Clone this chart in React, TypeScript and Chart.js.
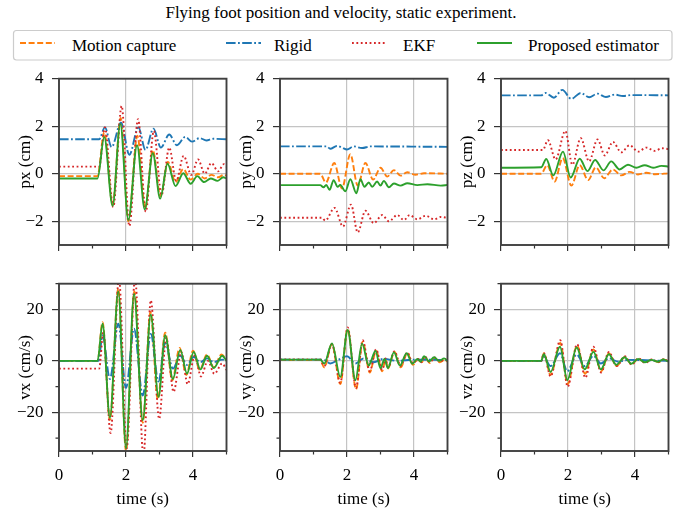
import React, { useEffect, useRef } from 'react';
import { Chart, registerables } from 'chart.js';

Chart.register(...registerables);

type Pt = [number, number];

// ---------- data (time in s, value) ----------
// px (cm)
const pxMocap: Pt[] = [[0,-0.1],[1.15,-0.1],[1.35,1.75],[1.6,-1.3],[1.84,2.35],[2.07,-2.0],[2.34,1.6],[2.57,-1.45],[2.8,1.0],[3.03,-0.95],[3.25,0.5],[3.48,-0.35],[3.71,0.2],[3.93,-0.25],[4.14,0.0],[4.35,-0.2],[4.55,-0.05],[4.75,-0.15],[4.92,-0.05],[5,-0.08]];
const pxRigid: Pt[] = [[0,1.45],[1.2,1.45],[1.37,1.95],[1.57,1.12],[1.85,2.15],[2.1,0.8],[2.37,1.95],[2.58,1.0],[2.82,1.9],[3.04,1.1],[3.29,1.65],[3.52,1.2],[3.77,1.55],[3.97,1.35],[4.2,1.5],[4.4,1.4],[4.6,1.47],[5,1.45]];
const pxEkf: Pt[] = [[0,0.3],[1.2,0.3],[1.37,1.95],[1.62,-1.4],[1.87,2.85],[2.1,-2.2],[2.36,2.3],[2.59,-1.6],[2.83,1.8],[3.06,-0.9],[3.29,1.1],[3.5,-0.3],[3.72,0.75],[3.95,-0.05],[4.15,0.6],[4.35,0.0],[4.55,0.45],[4.75,0.1],[4.92,0.4],[5,0.3]];
const pxProposed: Pt[] = [[0,-0.2],[1.15,-0.2],[1.35,1.55],[1.6,-1.35],[1.83,2.1],[2.07,-1.95],[2.33,1.2],[2.56,-1.5],[2.8,0.86],[3.02,-1.05],[3.24,0.42],[3.48,-0.52],[3.71,0.02],[3.93,-0.42],[4.13,-0.1],[4.33,-0.35],[4.53,-0.2],[4.73,-0.3],[4.9,-0.15],[5,-0.2]];

// py (cm)
const pyMocap: Pt[] = [[0,0],[1.2,0],[1.37,-0.37],[1.62,0.45],[1.85,-0.62],[2.1,0.82],[2.32,-0.5],[2.55,0.45],[2.78,-0.25],[3.0,0.25],[3.2,-0.12],[3.4,0.15],[3.6,-0.08],[3.8,0.06],[4.05,-0.04],[4.3,0.02],[5,0]];
const pyRigid: Pt[] = [[0,1.15],[1.4,1.15],[1.5,1.05],[1.7,1.17],[1.85,1.1],[2.0,1.02],[2.2,1.15],[2.45,1.08],[2.7,1.15],[5,1.13]];
const pyEkf: Pt[] = [[0,-1.85],[1.25,-1.85],[1.35,-1.97],[1.63,-1.44],[1.88,-2.22],[2.12,-1.3],[2.32,-2.47],[2.55,-1.56],[2.8,-2.08],[3.05,-1.74],[3.25,-2.0],[3.5,-1.74],[3.7,-1.95],[3.87,-1.74],[4.1,-1.92],[4.35,-1.77],[4.6,-1.92],[4.8,-1.82],[5,-1.86]];
const pyProposed: Pt[] = [[0,-0.48],[1.2,-0.48],[1.3,-0.57],[1.38,-0.47],[1.48,-0.68],[1.6,-0.27],[1.72,-0.55],[1.8,-0.47],[1.95,-0.74],[2.1,-0.23],[2.28,-0.82],[2.4,-0.23],[2.52,-0.55],[2.65,-0.37],[2.75,-0.55],[2.9,-0.33],[3.0,-0.5],[3.1,-0.3],[3.25,-0.57],[3.4,-0.41],[3.6,-0.5],[3.8,-0.4],[4.1,-0.48],[4.4,-0.44],[4.8,-0.5],[5,-0.47]];

// pz (cm)
const pzMocap: Pt[] = [[0,0],[1.2,0],[1.38,0.36],[1.6,-0.33],[1.84,0.66],[2.1,-0.5],[2.35,0.36],[2.6,-0.27],[2.83,0.27],[3.08,-0.19],[3.34,0.18],[3.59,-0.07],[3.84,0.08],[4.09,-0.03],[4.34,0.04],[4.6,-0.02],[5,0.02]];
const pzRigid: Pt[] = [[0,3.3],[1.2,3.3],[1.33,3.4],[1.58,3.2],[1.83,3.53],[2.1,3.15],[2.38,3.4],[2.63,3.22],[2.88,3.37],[3.13,3.23],[3.39,3.33],[3.64,3.27],[3.9,3.31],[5,3.3]];
const pzEkf: Pt[] = [[0,1.0],[1.25,1.0],[1.4,1.41],[1.63,0.6],[1.92,1.8],[2.13,0.38],[2.38,1.5],[2.63,0.52],[2.88,1.44],[3.1,0.77],[3.34,1.34],[3.59,0.9],[3.84,1.2],[4.09,0.93],[4.34,1.1],[4.59,0.96],[4.8,1.07],[5,1.04]];
const pzProposed: Pt[] = [[0,0.25],[1.2,0.27],[1.35,0.62],[1.56,-0.07],[1.85,0.93],[2.08,-0.16],[2.35,0.63],[2.58,0.11],[2.81,0.58],[3.06,0.14],[3.29,0.52],[3.54,0.18],[3.79,0.38],[4.04,0.25],[4.29,0.36],[4.54,0.25],[4.79,0.33],[5,0.3]];

// vx (cm/s)
const vxMocap: Pt[] = [[0,0],[1.15,0],[1.3,15],[1.52,-23],[1.77,28],[2.0,-35],[2.25,27],[2.5,-24],[2.73,19],[2.95,-15],[3.17,11],[3.38,-7.5],[3.6,5],[3.8,-5.5],[4.0,4],[4.2,-3.5],[4.42,2.5],[4.62,-2.5],[4.85,2.5],[5,0.5]];
const vxRigid: Pt[] = [[0,0],[1.18,0],[1.3,10],[1.52,-7],[1.77,14.5],[2.0,-10.5],[2.24,12.5],[2.5,-13.5],[2.74,10.5],[2.97,-8],[3.17,7],[3.4,-3],[3.62,2],[3.82,-1.5],[4.02,1.5],[4.22,-0.5],[4.42,1],[4.62,-0.5],[4.87,0.5],[5,0]];
const vxEkf: Pt[] = [[0,-3],[1.2,-3],[1.32,11],[1.54,-28],[1.79,32],[2.02,-34],[2.27,32],[2.52,-37],[2.74,23.5],[2.99,-22.5],[3.2,9],[3.42,-12],[3.65,3.5],[3.84,-9],[4.05,2],[4.24,-6],[4.44,0],[4.64,-5],[4.87,-1],[5,-3.5]];
const vxProposed: Pt[] = [[0,0],[1.15,0],[1.3,14.5],[1.52,-22],[1.77,27],[2.0,-34],[2.24,26],[2.5,-23],[2.74,18],[2.97,-14],[3.17,10],[3.4,-7],[3.62,4.3],[3.82,-4.9],[4.02,3.5],[4.22,-3.3],[4.42,2],[4.62,-2.8],[4.87,2],[5,0]];

// vy (cm/s)
const vyMocap: Pt[] = [[0,0.3],[1.2,0.3],[1.32,-2.5],[1.55,6.5],[1.8,-9],[2.02,12.5],[2.27,-11],[2.47,7.5],[2.68,-4.5],[2.87,4],[3.05,-4],[3.15,0.5],[3.22,-3],[3.42,3.5],[3.6,-2.5],[3.8,3],[3.97,-1.5],[4.12,0.5],[4.22,-0.8],[4.32,1.5],[4.47,-0.8],[4.62,1],[4.77,-0.5],[4.92,0.5],[5,-0.3]];
const vyRigid: Pt[] = [[0,0.5],[1.3,0.5],[1.5,-1],[1.75,0.5],[2.0,1.8],[2.25,-1],[2.5,1],[2.8,-0.5],[3.1,0.8],[3.5,0],[4,0.5],[5,0.3]];
const vyEkf: Pt[] = [[0,0.6],[1.2,0.6],[1.32,-2],[1.55,6.5],[1.8,-8.5],[2.02,13],[2.27,-10.5],[2.47,8],[2.68,-4],[2.87,4.5],[3.05,-3.5],[3.15,1],[3.22,-2.5],[3.42,3.8],[3.6,-2],[3.8,3.3],[3.97,-1],[4.12,0.8],[4.22,-0.5],[4.32,1.8],[4.47,-0.5],[4.62,1.3],[4.77,-0.3],[4.92,0.8],[5,0]];
const vyProposed: Pt[] = [[0,0.5],[1.2,0.5],[1.32,-1],[1.55,6.8],[1.8,-6.2],[2.02,12],[2.25,-7.5],[2.45,6.7],[2.65,-1.8],[2.72,0],[2.85,3.9],[3.0,-2.8],[3.12,0.8],[3.22,-2.8],[3.4,3.3],[3.58,-1.8],[3.78,3.0],[3.95,-1.1],[4.1,0.8],[4.2,-0.3],[4.3,1.8],[4.45,-0.2],[4.6,1.4],[4.75,0],[4.9,1],[5,0]];

// vz (cm/s)
const vzMocap: Pt[] = [[0,0],[1.2,0],[1.28,3],[1.48,-5.5],[1.77,7],[1.99,-9],[2.27,6],[2.51,-5],[2.76,4.5],[2.99,-4],[3.22,3],[3.45,-2],[3.7,1.5],[3.9,-1.3],[4.1,0.9],[4.3,-0.6],[4.5,0.5],[4.7,-0.4],[4.86,0.6],[5,-0.3]];
const vzRigid: Pt[] = [[0,0],[1.2,0],[1.28,1.5],[1.48,-2],[1.76,3],[1.98,-4],[2.26,2.5],[2.5,-2],[2.76,2],[2.98,-1],[3.22,1],[3.5,-0.3],[3.8,0.4],[5,0]];
const vzEkf: Pt[] = [[0,0],[1.2,0],[1.28,3],[1.48,-6],[1.77,8],[1.99,-10],[2.27,6.5],[2.52,-6.5],[2.76,5.5],[2.99,-4.5],[3.22,3.5],[3.45,-2],[3.7,1.8],[3.9,-1.5],[4.1,1],[4.3,-0.8],[4.5,0.6],[4.7,-0.5],[4.86,0.7],[5,-0.2]];
const vzProposed: Pt[] = [[0,0],[1.2,0],[1.28,2.6],[1.48,-4.3],[1.76,5.5],[1.98,-7.4],[2.26,5.2],[2.5,-3.3],[2.76,3.5],[2.98,-3.3],[3.22,2.6],[3.44,-1.5],[3.69,1.4],[3.89,-1.1],[4.09,0.8],[4.29,-0.5],[4.49,0.4],[4.69,-0.3],[4.85,0.6],[5,-0.3]];

// ---------- axes ----------
const timeRange = [0, 5];
const timeTicks = [0, 2, 4];
const timeMinor = [1, 3, 5];
const posRange = [-3, 4];
const posTicks = [-2, 0, 2, 4];
const posMinor: number[] = [];
const velRange = [-35, 30];
const velTicks = [-20, 0, 20];
const velMinor = [-30, -10, 10, 30];

const seriesLabels = ['Motion capture', 'Rigid', 'EKF', 'Proposed estimator'];
const title = 'Flying foot position and velocity, static experiment.';
const xLabel = 'time (s)';

// ---------- styles ----------
const FONT = '"Liberation Serif", "Times New Roman", "DejaVu Serif", serif';
const FS = 17;
const LW = 1.9;
const STYLES = [
  { color: '#ff7f0e', dash: [6, 2.6] },
  { color: '#1f77b4', dash: [9.6, 2.4, 1.8, 2.4] },
  { color: '#d62728', dash: [1.8, 2.6] },
  { color: '#2ca02c', dash: [] as number[] },
];

const panels = [
  { ylabel: 'px (cm)', row: 0, col: 0, series: [pxMocap, pxRigid, pxEkf, pxProposed] },
  { ylabel: 'py (cm)', row: 0, col: 1, series: [pyMocap, pyRigid, pyEkf, pyProposed] },
  { ylabel: 'pz (cm)', row: 0, col: 2, series: [pzMocap, pzRigid, pzEkf, pzProposed] },
  { ylabel: 'vx (cm/s)', row: 1, col: 0, series: [vxMocap, vxRigid, vxEkf, vxProposed] },
  { ylabel: 'vy (cm/s)', row: 1, col: 1, series: [vyMocap, vyRigid, vyEkf, vyProposed] },
  { ylabel: 'vz (cm/s)', row: 1, col: 2, series: [vzMocap, vzRigid, vzEkf, vzProposed] },
];

const COL_X = [0, 221, 442];
const ROW_Y = [60, 265];
const AXIS_W = 59;
const PLOT_W = 167.5;
const CANVAS_W = 236;
const PAD_TOP = 15;
const ROW_PLOT_H = [170, 171];
const ROW_XAXIS_H = [20, 57];

const fmt = (v: number) => (v < 0 ? '\u2212' + String(-v) : String(v));

const framePlugin = {
  id: 'frame',
  afterDatasetsDraw(chart: any, _args: any, opts: any) {
    const { ctx, chartArea: a } = chart;
    ctx.save();
    ctx.strokeStyle = '#333';
    ctx.lineWidth = 1.2;
    ctx.beginPath();
    (opts.xMinor || []).forEach((v: number) => {
      const x = chart.scales.x.getPixelForValue(v);
      ctx.moveTo(x, a.bottom);
      ctx.lineTo(x, a.bottom + 3.5);
    });
    (opts.yMinor || []).forEach((v: number) => {
      const y = chart.scales.y.getPixelForValue(v);
      ctx.moveTo(a.left - 3.5, y);
      ctx.lineTo(a.left, y);
    });
    ctx.stroke();
    ctx.strokeStyle = '#404040';
    ctx.lineWidth = 1.9;
    ctx.strokeRect(a.left, a.top, a.right - a.left, a.bottom - a.top);
    ctx.restore();
  },
};

function Panel({ p }: { p: (typeof panels)[number] }) {
  const ref = useRef<HTMLCanvasElement>(null);
  const top = p.row === 0;
  const H = PAD_TOP + ROW_PLOT_H[p.row] + ROW_XAXIS_H[p.row];
  useEffect(() => {
    const font = { family: FONT, size: FS };
    const yRange = top ? posRange : velRange;
    const yTicks = top ? posTicks : velTicks;
    const yMinor = top ? posMinor : velMinor;
    const chart = new Chart(ref.current as HTMLCanvasElement, {
      type: 'line',
      data: {
        datasets: p.series.map((s, i) => ({
          label: seriesLabels[i],
          data: s.map(([x, y]) => ({ x, y })),
          borderColor: STYLES[i].color,
          backgroundColor: STYLES[i].color,
          borderDash: STYLES[i].dash,
          borderWidth: LW,
          pointRadius: 0,
          fill: false,
          cubicInterpolationMode: 'monotone',
          order: 3 - i,
        })),
      },
      options: {
        animation: false,
        responsive: false,
        events: [],
        layout: { padding: { top: PAD_TOP, right: CANVAS_W - AXIS_W - PLOT_W, left: 0, bottom: 0 } },
        plugins: {
          legend: { display: false },
          tooltip: { enabled: false },
          frame: { xMinor: timeMinor, yMinor },
        } as any,
        scales: {
          x: {
            type: 'linear',
            min: timeRange[0],
            max: timeRange[1],
            afterBuildTicks: (s: any) => { s.ticks = timeTicks.map((v) => ({ value: v })); },
            afterFit: (s: any) => { s.height = ROW_XAXIS_H[p.row]; },
            grid: { color: '#c4c4c4', lineWidth: 1.2, tickLength: 6, tickColor: '#333', tickWidth: 1.2 },
            border: { display: false },
            ticks: {
              callback: (v: any) => (top ? '' : fmt(Number(v))),
              font, color: '#000', padding: 8, maxRotation: 0, autoSkip: false,
            },
            title: { display: !top, text: xLabel, font, color: '#000', padding: { top: 0, bottom: -2 } },
          },
          y: {
            type: 'linear',
            min: yRange[0],
            max: yRange[1],
            afterBuildTicks: (s: any) => { s.ticks = yTicks.map((v) => ({ value: v })); },
            afterFit: (s: any) => { s.width = AXIS_W; },
            grid: { color: '#c4c4c4', lineWidth: 1.2, tickLength: 7, tickColor: '#333', tickWidth: 1.2 },
            border: { display: false },
            ticks: { callback: (v: any) => fmt(Number(v)), font, color: '#000', padding: 8.5, autoSkip: false },
            title: { display: true, text: p.ylabel, font, color: '#000', padding: { top: 15, bottom: 0 } },
          },
        },
      } as any,
      plugins: [framePlugin as any],
    });
    return () => chart.destroy();
  }, []);
  return (
    <canvas
      ref={ref}
      width={CANVAS_W}
      height={H}
      style={{ position: 'absolute', left: COL_X[p.col], top: ROW_Y[p.row], width: CANVAS_W, height: H }}
    />
  );
}

const legendItems = [
  { x0: 20, text: 72 },
  { x0: 226, text: 274 },
  { x0: 352, text: 403 },
  { x0: 477, text: 528 },
];

export default function App() {
  return (
    <div style={{ position: 'absolute', left: 0, top: 0, width: 682, height: 508, background: '#fff', overflow: 'hidden' }}>
      <svg width={682} height={66} style={{ position: 'absolute', left: 0, top: 0 }}>
        <text x={341} y={17.5} textAnchor="middle" fontFamily={FONT} fontSize={FS}>{title}</text>
        <rect x={13.5} y={30.5} width={658.5} height={29.5} rx={3} fill="#fff" stroke="#cccccc" strokeWidth={1.2} />
        {legendItems.map((it, i) => (
          <g key={i}>
            <line x1={it.x0} x2={it.x0 + 35} y1={43} y2={43} stroke={STYLES[i].color} strokeWidth={LW}
              strokeDasharray={STYLES[i].dash.length ? STYLES[i].dash.join(' ') : undefined} />
            <text x={it.text} y={50.5} fontFamily={FONT} fontSize={FS}>{seriesLabels[i]}</text>
          </g>
        ))}
      </svg>
      {panels.map((p, i) => <Panel key={i} p={p} />)}
    </div>
  );
}
